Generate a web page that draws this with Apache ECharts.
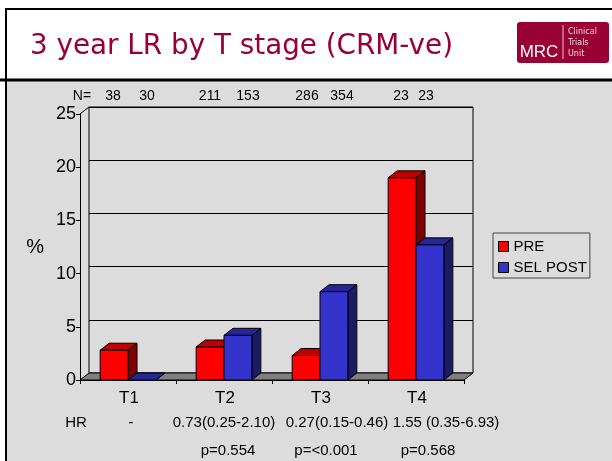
<!DOCTYPE html>
<html>
<head>
<meta charset="utf-8">
<style>
  html, body { margin: 0; padding: 0; background: #dcdcdc; }
  #chart { width: 612px; height: 461px; }
</style>
<script src="https://cdn.jsdelivr.net/npm/echarts@6/dist/echarts.min.js"></script>
</head>
<body>
<div id="chart"></div>
<script>
const categories = ['T1', 'T2', 'T3', 'T4'];
const preValues = [2.8, 3.1, 2.3, 19];
const postValues = [0, 4.2, 8.3, 12.7];
const nLabels = ['38', '30', '211', '153', '286', '354', '23', '23'];
const hrLabels = ['-', '0.73(0.25-2.10)', '0.27(0.15-0.46)', '1.55 (0.35-6.93)'];
const pLabels = ['p=0.554', 'p=<0.001', 'p=0.568'];

// where the extra rows of text sit
const nX = [113, 147, 210, 248, 307, 342, 401, 426];
const hrX = [131, 224, 337, 446];
const pX = [228, 326, 428];

// plot box, and how far the back wall is shifted from the front
const L = 80, R = 464, T = 114, B = 380;
const DX = 9, DY = 7;

const myChart = echarts.init(document.getElementById('chart'));

function bar3d(offset, front, top, side) {
  return function (params, api) {
    const p = api.coord([api.value(0), api.value(1)]);
    const band = api.size([1, 0])[0];
    const w = band * 0.29;
    const x0 = p[0] + offset * w;
    const x1 = x0 + w;
    const y0 = p[1];
    const y1 = api.coord([api.value(0), 0])[1];
    const line = { stroke: '#000', lineWidth: 1 };
    const children = [
      {
        type: 'polygon',
        shape: { points: [[x1, y0], [x1 + DX, y0 - DY], [x1 + DX, y1 - DY], [x1, y1]] },
        style: { fill: side, ...line }
      },
      {
        type: 'polygon',
        shape: { points: [[x0, y0], [x0 + DX, y0 - DY], [x1 + DX, y0 - DY], [x1, y0]] },
        style: { fill: top, ...line }
      }
    ];
    if (y1 - y0 > 0) {
      children.push({
        type: 'rect',
        shape: { x: x0, y: y0, width: w, height: y1 - y0 },
        style: { fill: front, ...line }
      });
    }
    return { type: 'group', children: children };
  };
}

function text(str, x, y, size, opts) {
  return {
    type: 'text', x: x, y: y, z: 10,
    style: Object.assign({
      text: str, fill: '#000', font: size + 'px "Liberation Sans"',
      align: 'center', verticalAlign: 'middle'
    }, opts || {})
  };
}

const titleColor = '#990033';
const graphics = [
  // header
  { type: 'rect', z: 1, shape: { x: 0, y: 0, width: 612, height: 80 }, style: { fill: '#fff' } },
  { type: 'rect', z: 1, shape: { x: 0, y: 0, width: 5, height: 461 }, style: { fill: '#fff' } },
  { type: 'line', z: 2, shape: { x1: 0, y1: 80, x2: 612, y2: 80 }, style: { stroke: '#000', lineWidth: 3 } },
  { type: 'line', z: 2, shape: { x1: 5, y1: 9, x2: 612, y2: 9 }, style: { stroke: '#000', lineWidth: 2 } },
  { type: 'line', z: 2, shape: { x1: 6, y1: 9, x2: 6, y2: 461 }, style: { stroke: '#000', lineWidth: 2 } },
  text('3 year LR by T stage (CRM-ve)', 30, 47, 28, { fill: titleColor, font: '27.8px "DejaVu Sans"', align: 'left' }),
  // logo
  { type: 'rect', z: 2, shape: { x: 517, y: 22, width: 92, height: 41, r: 3 }, style: { fill: titleColor } },
  { type: 'line', z: 3, shape: { x1: 563, y1: 25, x2: 563, y2: 59 }, style: { stroke: '#e8c8d4', lineWidth: 1 } },
  text('MRC', 539, 52, 17, { fill: '#fff' }),
  text('Clinical', 568, 32, 8, { fill: '#f0d8e0', font: '8px "DejaVu Sans"', align: 'left' }),
  text('Trials', 568, 43, 8, { fill: '#f0d8e0', font: '8px "DejaVu Sans"', align: 'left' }),
  text('Unit', 568, 54, 8, { fill: '#f0d8e0', font: '8px "DejaVu Sans"', align: 'left' }),
  // floor and corners of the box
  {
    type: 'polygon', z: 1,
    shape: { points: [[L, B], [L + DX, B - DY], [R + DX, B - DY], [R, B]] },
    style: { fill: '#808080', stroke: '#000', lineWidth: 1 }
  },
  { type: 'line', z: 1, shape: { x1: L, y1: T, x2: L + DX, y2: T - DY }, style: { stroke: '#000', lineWidth: 1 } },
  // rows of text
  text('N=', 82, 96, 14),
  text('HR', 76, 423, 15)
];
nLabels.forEach((s, i) => graphics.push(text(s, nX[i], 96, 14)));
hrLabels.forEach((s, i) => graphics.push(text(s, hrX[i], 423, 15)));
pLabels.forEach((s, i) => graphics.push(text(s, pX[i], 451, 15)));

const option = {
  backgroundColor: '#dcdcdc',
  animation: false,
  graphic: graphics,
  legend: {
    left: 493, top: 233,
    orient: 'vertical',
    itemWidth: 10, itemHeight: 10, itemGap: 6,
    padding: [6, 3, 3, 5],
    borderColor: '#444', borderWidth: 1,
    textStyle: { fontFamily: 'Liberation Sans', fontSize: 15, color: '#000', padding: [0, 0, 0, 0] },
    data: [
      { name: 'PRE', icon: 'rect', itemStyle: { color: '#ff0000', borderColor: '#000', borderWidth: 1 } },
      { name: 'SEL POST', icon: 'rect', itemStyle: { color: '#3333cc', borderColor: '#000', borderWidth: 1 } }
    ]
  },
  grid: [
    { left: L, top: T, width: R - L, height: B - T },
    { left: L + DX, top: T - DY, width: R - L, height: B - T, show: true, borderColor: '#000', borderWidth: 1, backgroundColor: 'transparent' }
  ],
  xAxis: [
    {
      type: 'category', gridIndex: 0, data: categories,
      axisLine: { lineStyle: { color: '#000' } },
      axisTick: { show: true, length: 4, lineStyle: { color: '#000' } },
      axisLabel: { color: '#000', fontFamily: 'Liberation Sans', fontSize: 17, margin: 10, padding: [0, 0, 0, 2] }
    },
    { type: 'category', gridIndex: 1, data: categories, show: false }
  ],
  yAxis: [
    {
      type: 'value', gridIndex: 0, min: 0, max: 25, interval: 5,
      name: '%', nameLocation: 'middle', nameRotate: 0, nameGap: 36,
      nameTextStyle: { color: '#000', fontFamily: 'Liberation Sans', fontSize: 20 },
      axisLine: { show: true, lineStyle: { color: '#000' } },
      axisTick: { show: true, length: 4, lineStyle: { color: '#000' } },
      axisLabel: { color: '#000', fontFamily: 'Liberation Sans', fontSize: 18, margin: 4, padding: [3, 0, 0, 0] },
      splitLine: { show: false }
    },
    {
      type: 'value', gridIndex: 1, min: 0, max: 25, interval: 5,
      axisLine: { show: false }, axisTick: { show: false }, axisLabel: { show: false },
      splitLine: { show: true, lineStyle: { color: '#000', width: 1 } }
    }
  ],
  series: [
    {
      name: 'PRE', type: 'custom', xAxisIndex: 0, yAxisIndex: 0,
      data: preValues.map((v, i) => [i, v]),
      encode: { x: 0, y: 1 },
      itemStyle: { color: '#ff0000' },
      renderItem: bar3d(-1, '#ff0000', '#c00000', '#800000')
    },
    {
      name: 'SEL POST', type: 'custom', xAxisIndex: 0, yAxisIndex: 0,
      data: postValues.map((v, i) => [i, v]),
      encode: { x: 0, y: 1 },
      itemStyle: { color: '#3333cc' },
      renderItem: bar3d(0, '#3333cc', '#26269a', '#1a1a66')
    }
  ]
};

option && myChart.setOption(option);
</script>
</body>
</html>
